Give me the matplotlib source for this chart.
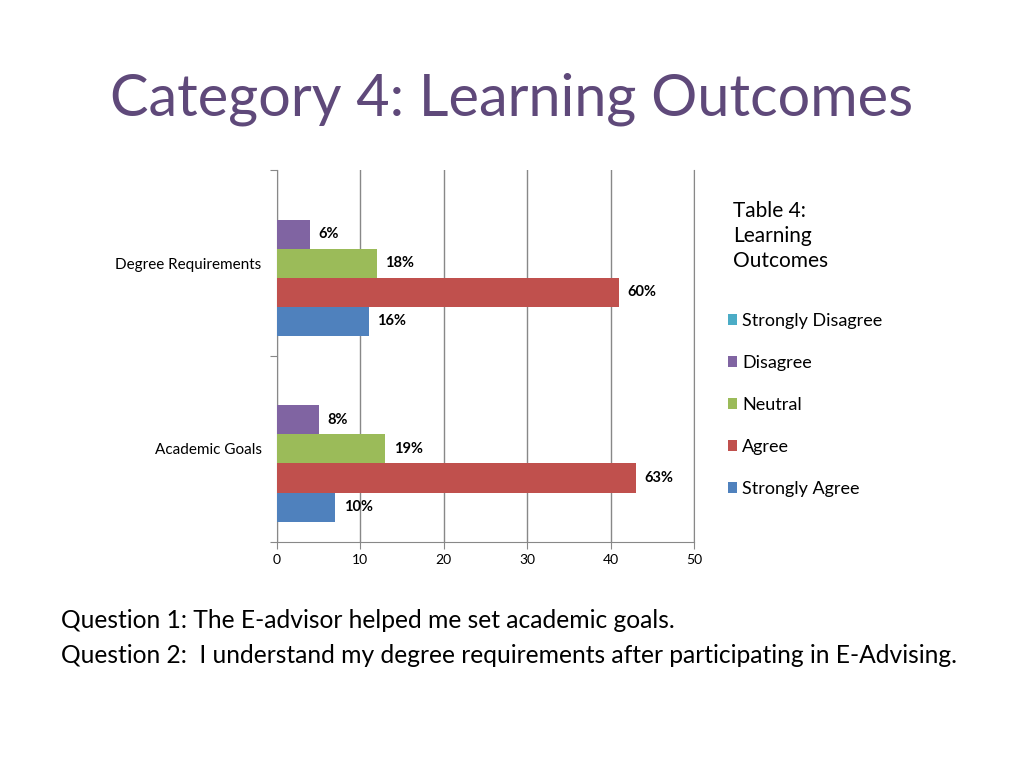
import matplotlib.pyplot as plt
import numpy as np

plt.rcParams['font.family'] = ['Lato', 'DejaVu Sans']

categories = ['Academic Goals', 'Degree Requirements']
series = ['Strongly Agree', 'Agree', 'Neutral', 'Disagree', 'Strongly Disagree']
colors = ['#4F81BD', '#C0504D', '#9BBB59', '#8064A2', '#4BACC6']

# counts per response, for [Academic Goals, Degree Requirements]
strongly_agree = [7, 11]
agree = [43, 41]
neutral = [13, 12]
disagree = [5, 4]
strongly_disagree = [0, 0]
values = [strongly_agree, agree, neutral, disagree, strongly_disagree]

# labels printed next to the bars
pct_labels = [['10%', '16%'], ['63%', '60%'], ['19%', '18%'], ['8%', '6%'], [None, None]]

fig = plt.figure(figsize=(10.24, 7.68), dpi=100)
ax = fig.add_axes([0.2705, 0.2943, 0.4072, 0.4843])

h = 0.156
y = np.arange(len(categories))
for i, (name, vals) in enumerate(zip(series, values)):
    off = (i - 2) * h
    ax.barh(y + off, vals, height=h, color=colors[i], label=name, zorder=3)
    for j, v in enumerate(vals):
        lab = pct_labels[i][j]
        if lab:
            ax.annotate(lab, (v, y[j] + off), xytext=(6, 0), textcoords='offset points',
                        va='center', ha='left', fontsize=10.5, fontweight='bold', zorder=4)

ax.set_xlim(0, 50)
ax.set_ylim(-0.5, 1.5)
ax.set_xticks([0, 10, 20, 30, 40, 50])
ax.set_yticks([-0.5, 0.5, 1.5])
ax.set_yticklabels([])
ax.set_yticks(y, minor=True)
ax.set_yticklabels(categories, minor=True)
ax.tick_params(axis='y', which='minor', length=0, pad=11, labelsize=11)
ax.tick_params(axis='y', which='major', length=5, color='#888888')
ax.tick_params(axis='x', length=5, color='#888888', labelsize=10)
ax.xaxis.grid(True, color='#888888', linewidth=1, zorder=0)
ax.spines['top'].set_visible(False)
for s in ['left', 'bottom', 'right']:
    ax.spines[s].set_color('#888888')

fig.text(0.5, 0.871, 'Category 4: Learning Outcomes', ha='center', va='center',
         fontsize=41.5, color='#5F497A')

fig.text(0.716, 0.693, 'Table 4:\nLearning\nOutcomes', ha='left', va='center',
         fontsize=15, linespacing=1.3)

handles, labels = ax.get_legend_handles_labels()
fig.legend(handles[::-1], labels[::-1], loc='upper left', bbox_to_anchor=(0.695, 0.6136),
           frameon=False, fontsize=13, handlelength=0.5, handleheight=0.5,
           handletextpad=0.28, labelspacing=1.44)

fig.text(0.06, 0.192, 'Question 1: The E-advisor helped me set academic goals.',
         fontsize=17.7, ha='left', va='center')
fig.text(0.06, 0.146, 'Question 2:  I understand my degree requirements after participating in E-Advising.',
         fontsize=17.7, ha='left', va='center')

fig.savefig('out.png', dpi=100)
